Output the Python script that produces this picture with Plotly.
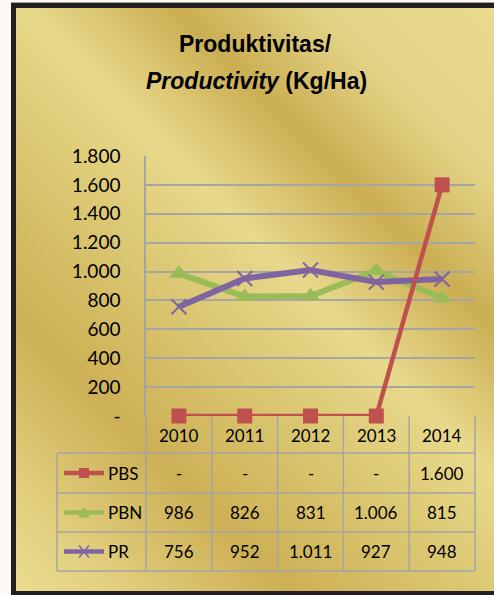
import base64
import plotly.graph_objects as go

# ---------------- data ----------------
years = ["2010", "2011", "2012", "2013", "2014"]
pbs = [0, 0, 0, 0, 1600]
pbn = [986, 826, 831, 1006, 815]
pr = [756, 952, 1011, 927, 948]
series_names = ["PBS", "PBN", "PR"]
y_tickvals = [0, 200, 400, 600, 800, 1000, 1200, 1400, 1600, 1800]

# ---------------- style ----------------
W, H = 494, 595
ML, MR, MT, MB = 146, 19, 156, 179
PW, PH = W - ML - MR, H - MT - MB
RED, GREEN, PURPLE = "#C0504D", "#9BBB59", "#8064A2"
GRID = "#A5A5A5"
FONT = "Lato"
TITLE_FONT = "Liberation Sans, Arial, sans-serif"


def fmt(v):
    return "-" if v == 0 else f"{v:,}".replace(",", ".")


def X(px):
    return (px - ML) / PW


def Y(py):
    return (H - MB - py) / PH


# background (gold gradient with dark frame) as an SVG image
svg = f"""<svg xmlns='http://www.w3.org/2000/svg' width='{W}' height='{H}' viewBox='0 0 {W} {H}' preserveAspectRatio='none'>
<defs><linearGradient id='g' gradientUnits='userSpaceOnUse' x1='-288.5' y1='288.5' x2='243.5' y2='-243.5'>
<stop offset='0' stop-color='#EADC90'/>
<stop offset='0.08' stop-color='#E4D283'/>
<stop offset='0.26' stop-color='#CDB055'/>
<stop offset='0.45' stop-color='#DDCA76'/>
<stop offset='0.56' stop-color='#E8D98C'/>
<stop offset='0.70' stop-color='#CBAE52'/>
<stop offset='0.83' stop-color='#E3D386'/>
<stop offset='1' stop-color='#E8DA8E'/>
</linearGradient></defs>
<rect width='{W}' height='{H}' fill='#FBF9F1'/>
<rect x='11' y='2' width='{W-11}' height='{H-2}' fill='#A8A49A'/>
<rect x='11' y='3' width='{W-11}' height='{H-3}' fill='#231F20'/>
<rect x='16' y='8' width='{W-16}' height='{H-8-4}' fill='url(#g)'/>
</svg>"""
src = "data:image/svg+xml;base64," + base64.b64encode(svg.encode()).decode()

fig = go.Figure()

fig.add_trace(go.Scatter(
    x=years, y=pbn, mode="lines+markers", name="PBN", cliponaxis=False,
    line=dict(color=GREEN, width=6),
    marker=dict(symbol="triangle-up", size=17, color=GREEN)))
fig.add_trace(go.Scatter(
    x=years, y=pr, mode="lines+markers", name="PR", cliponaxis=False,
    line=dict(color=PURPLE, width=6),
    marker=dict(symbol="x-thin", size=15, color=PURPLE,
                line=dict(color=PURPLE, width=2))))
fig.add_trace(go.Scatter(
    x=years, y=pbs, mode="lines+markers", name="PBS", cliponaxis=False,
    line=dict(color=RED, width=4.5),
    marker=dict(symbol="square", size=15, color=RED)))

shapes = []
# table grid
row_lines = [453, 493, 532, 571]
for py in row_lines:
    shapes.append(dict(type="line", xref="paper", yref="paper", x0=X(57), x1=X(475),
                       y0=Y(py), y1=Y(py), line=dict(color=GRID, width=1.5)))
shapes.append(dict(type="line", xref="paper", yref="paper", x0=X(57), x1=X(57),
                   y0=Y(453), y1=Y(571), line=dict(color=GRID, width=1.5)))
for i in range(len(years) + 1):
    xp = i / len(years)
    shapes.append(dict(type="line", xref="paper", yref="paper", x0=xp, x1=xp,
                       y0=0, y1=Y(571), line=dict(color=GRID, width=1.5)))

tfont = dict(family=FONT, size=17, color="#000000")
annotations = []
# title
annotations.append(dict(text="<b>Produktivitas/</b>", xref="paper", yref="paper",
                        x=X(255), y=Y(44), showarrow=False, xanchor="center", yanchor="middle",
                        font=dict(family=TITLE_FONT, size=23, color="#000000")))
annotations.append(dict(text="<b><i>Productivity</i> (Kg/Ha)</b>", xref="paper", yref="paper",
                        x=X(256), y=Y(81), showarrow=False, xanchor="center", yanchor="middle",
                        font=dict(family=TITLE_FONT, size=23, color="#000000")))
# header years
for i, yr in enumerate(years):
    annotations.append(dict(text=yr, x=i, xref="x", yref="paper", y=Y(435),
                            showarrow=False, xanchor="center", yanchor="middle", font=tfont))
# rows
row_centers = [473, 512.5, 551.5]
all_vals = [pbs, pbn, pr]
colors = [RED, GREEN, PURPLE]
for name, vals, col, cy in zip(series_names, all_vals, colors, row_centers):
    for i, v in enumerate(vals):
        annotations.append(dict(text=fmt(v), x=i, xref="x", yref="paper", y=Y(cy),
                                showarrow=False, xanchor="center", yanchor="middle", font=tfont))
    annotations.append(dict(text=name, x=X(108), xref="paper", yref="paper", y=Y(cy),
                            showarrow=False, xanchor="left", yanchor="middle", xshift=-2,
                            font=tfont))
    # legend key line
    shapes.append(dict(type="line", xref="paper", yref="paper", x0=X(64), x1=X(104),
                       y0=Y(cy), y1=Y(cy), line=dict(color=col, width=4.5)))

# legend key markers
cx = 84
cy = row_centers[0]
shapes.append(dict(type="rect", xref="paper", yref="paper", x0=X(cx - 5), x1=X(cx + 5),
                   y0=Y(cy + 5), y1=Y(cy - 5), fillcolor=RED, line=dict(width=0)))
cy = row_centers[1]
shapes.append(dict(type="path", xref="paper", yref="paper",
                   path=f"M {X(cx-6)},{Y(cy+5)} L {X(cx+6)},{Y(cy+5)} L {X(cx)},{Y(cy-6)} Z",
                   fillcolor=GREEN, line=dict(width=0)))
cy = row_centers[2]
shapes.append(dict(type="path", xref="paper", yref="paper",
                   path=f"M {X(cx-5)},{Y(cy-6)} L {X(cx+5)},{Y(cy+6)} M {X(cx-5)},{Y(cy+6)} L {X(cx+5)},{Y(cy-6)}",
                   line=dict(color=PURPLE, width=1.5)))

fig.update_layout(
    width=W, height=H,
    margin=dict(l=ML, r=MR, t=MT, b=MB),
    paper_bgcolor="rgba(0,0,0,0)", plot_bgcolor="rgba(0,0,0,0)",
    showlegend=False,
    images=[dict(source=src, xref="paper", yref="paper", x=X(0), y=Y(0),
                 sizex=W / PW, sizey=H / PH, xanchor="left", yanchor="top",
                 sizing="stretch", layer="below")],
    shapes=shapes,
    annotations=annotations,
    xaxis=dict(type="category", range=[-0.5, 4.5], showgrid=False, zeroline=False,
               showticklabels=False, showline=False, fixedrange=True),
    yaxis=dict(range=[0, 1800], tickvals=y_tickvals, ticktext=[fmt(v) for v in y_tickvals],
               showgrid=True, gridcolor=GRID, gridwidth=1.5, zeroline=False,
               showline=True, linecolor=GRID, linewidth=1.5,
               ticks="", ticklabelstandoff=20,
               tickfont=dict(family=FONT, size=19, color="#000000"),
               fixedrange=True),
)

fig.write_html("out.html", config={"displayModeBar": False},
               post_script="document.body.style.margin='0px';")
